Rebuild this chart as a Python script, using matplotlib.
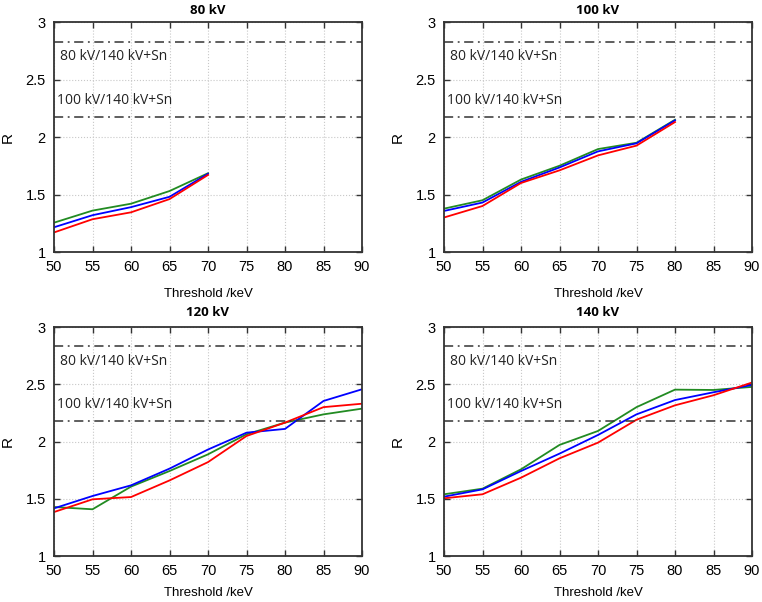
import numpy as np
import matplotlib
matplotlib.use("Agg")
import matplotlib.pyplot as plt

plt.rcParams['font.family'] = ['Liberation Sans', 'DejaVu Sans']

threshold = [50, 55, 60, 65, 70, 75, 80, 85, 90]

# R values per tube voltage (green, blue, red curves)
r_80_green = [1.255, 1.36, 1.42, 1.53, 1.685]
r_80_blue = [1.215, 1.32, 1.39, 1.48, 1.68]
r_80_red = [1.17, 1.285, 1.345, 1.46, 1.67]

r_100_green = [1.377, 1.45, 1.63, 1.75, 1.895, 1.95, 2.15]
r_100_blue = [1.357, 1.43, 1.61, 1.735, 1.875, 1.945, 2.145]
r_100_red = [1.30, 1.40, 1.60, 1.71, 1.84, 1.925, 2.13]

r_120_green = [1.428, 1.408, 1.606, 1.742, 1.888, 2.063, 2.165, 2.237, 2.287]
r_120_blue = [1.416, 1.524, 1.617, 1.763, 1.93, 2.077, 2.11, 2.354, 2.456]
r_120_red = [1.384, 1.495, 1.515, 1.66, 1.82, 2.048, 2.165, 2.30, 2.33]

r_140_green = [1.539, 1.588, 1.757, 1.97, 2.092, 2.30, 2.453, 2.45, 2.477]
r_140_blue = [1.518, 1.582, 1.742, 1.894, 2.057, 2.237, 2.362, 2.43, 2.494]
r_140_red = [1.504, 1.539, 1.684, 1.853, 1.99, 2.19, 2.316, 2.404, 2.515]

ref_80 = 2.83   # 80 kV/140 kV+Sn
ref_100 = 2.175  # 100 kV/140 kV+Sn

panels = [
    ("80 kV", r_80_green, r_80_blue, r_80_red),
    ("100 kV", r_100_green, r_100_blue, r_100_red),
    ("120 kV", r_120_green, r_120_blue, r_120_red),
    ("140 kV", r_140_green, r_140_blue, r_140_red),
]

# axes positions in pixels (left, right, top, bottom)
boxes = [(54, 362, 22, 252), (444, 752, 22, 252),
         (54, 362, 327, 556), (444, 752, 327, 556)]

W, H = 762, 602
fig = plt.figure(figsize=(W / 100, H / 100), dpi=100)

for i, ((title, g, b, r), (l, rr, t, bt)) in enumerate(zip(panels, boxes)):
    top_row = i < 2
    ax = fig.add_axes([l / W, 1 - bt / H, (rr - l) / W, (bt - t) / H])
    n = len(g)
    x = threshold[:n]
    ax.plot(x, g, color='#228B22', lw=1.3)
    ax.plot(x, b, color='#0000FF', lw=1.3)
    ax.plot(x, r, color='#FF0000', lw=1.3)

    ax.axhline(ref_80, color='#333333', lw=1.1, dashes=(6, 3, 1.2, 3))
    ax.axhline(ref_100, color='#333333', lw=1.1, dashes=(6, 3, 1.2, 3))
    ax.text(50.8, 2.70, "80 kV/140 kV+Sn", family=['Open Sans', 'DejaVu Sans'],
            fontsize=10, color='#222222', va='center', ha='left')
    ax.text(50.4, 2.32, "100 kV/140 kV+Sn", family=['Open Sans', 'DejaVu Sans'],
            fontsize=10, color='#222222', va='center', ha='left')

    ax.set_xlim(50, 90)
    ax.set_ylim(1, 3)
    ax.set_xticks(threshold)
    ax.set_yticks([1, 1.5, 2, 2.5, 3])
    ax.set_yticklabels(['1', '1.5', '2', '2.5', '3'])
    ax.grid(True, color='#C8C8C8', linestyle=':', lw=0.8)
    ax.tick_params(direction='in', length=4, width=1, top=True, right=True,
                   labelsize=10.5, color='#333333', pad=6)
    for s in ax.spines.values():
        s.set_color('#333333')
        s.set_linewidth(1.3)
    ax.set_xlabel('Threshold /keV', fontsize=9.5, labelpad=10 if top_row else 6)
    ax.set_ylabel('R', fontsize=11, labelpad=8)
    ax.set_title(title, fontsize=9.5, fontweight='bold',
                 family=['Open Sans', 'DejaVu Sans'], pad=6 if top_row else 8)

fig.savefig('out.png', dpi=100)
